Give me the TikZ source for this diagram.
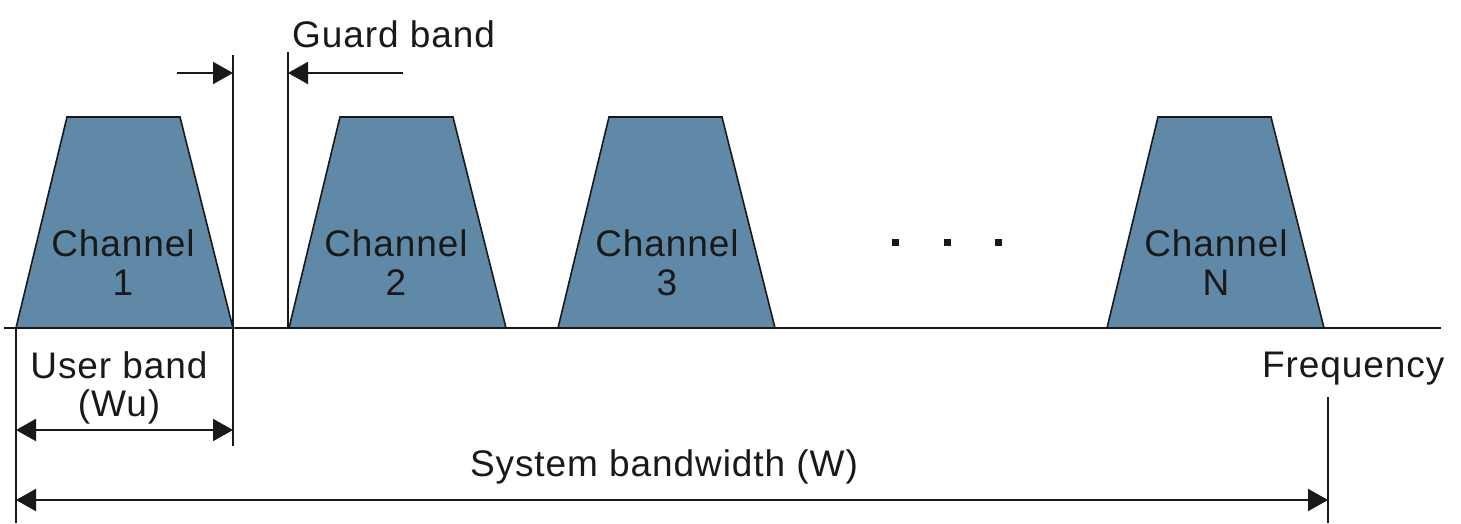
\documentclass[tikz,border=0pt]{standalone}
\usepackage{fontspec}
\setmainfont{Liberation Sans}[LetterSpace=2.5]
\usetikzlibrary{arrows.meta}
\definecolor{chanfill}{RGB}{96,137,168}
\definecolor{ink}{RGB}{25,25,25}
\tikzset{
  chan/.style={fill=chanfill, draw=ink, line width=1.6pt, line join=miter},
  rule/.style={draw=ink, line width=2pt},
  tip/.tip={Triangle[length=20pt,width=22pt]},
  dim/.style={draw=ink, line width=2pt, -tip},
  dimboth/.style={draw=ink, line width=2pt, tip-tip},
  lbl/.style={text=ink, font=\fontsize{37}{40}\selectfont, inner sep=0pt, align=center},
}
\begin{document}
\begin{tikzpicture}[x=1pt, y=-1pt]
  \useasboundingbox (0,0) rectangle (1461,523);

  % channel spectra
  \foreach \a in {16, 289, 558, 1107} {
    \path[chan] (\a,328) -- (\a+51,117) -- (\a+164,117) -- (\a+217,328) -- cycle;
  }
  \node[lbl] (c1) at (123,263) {Channel\\[-1pt]1};
  \node[lbl] (c2) at (396,263) {Channel\\[-1pt]2};
  \node[lbl] (c3) at (667,263) {Channel\\[-1pt]3};
  \node[lbl] (cN) at (1216,263) {Channel\\[-1pt]N};

  % ellipsis between channel 3 and channel N
  \foreach \x in {895, 947, 998} {
    \fill[ink] (\x-3.5,238.5) rectangle (\x+3.5,245.5);
  }

  % frequency axis
  \coordinate (ax0) at (4,328);
  \coordinate (ax1) at (1441,328);
  \draw[rule] (ax0) -- (ax1);

  % guard band markers
  \coordinate (g1t) at (233,55);
  \coordinate (g1b) at (233,446);
  \coordinate (g2t) at (288,52);
  \coordinate (g2b) at (288,328);
  \draw[rule] (g1t) -- (g1b);
  \draw[rule] (g2t) -- (g2b);
  \coordinate (ga0) at (177,73);
  \coordinate (ga1) at (233,73);
  \coordinate (gb0) at (403,73);
  \coordinate (gb1) at (288,73);
  \draw[dim] (ga0) -- (ga1);
  \draw[dim] (gb0) -- (gb1);
  \node[lbl, anchor=west] (guard) at (292,34) {Guard band};

  % user band
  \coordinate (u0) at (16,328);
  \coordinate (u1) at (16,523);
  \draw[rule] (u0) -- (u1);
  \node[lbl] (user) at (119,388) {User band\\[-2pt](Wu)};
  \coordinate (ua) at (16,430);
  \coordinate (ub) at (233,430);
  \draw[dimboth] (ua) -- (ub);

  % system bandwidth
  \node[lbl, anchor=west] (freq) at (1262,369) {Frequency};
  \coordinate (f0) at (1328,397);
  \coordinate (f1) at (1328,523);
  \draw[rule] (f0) -- (f1);
  \node[lbl] (sys) at (664,467) {System bandwidth (W)};
  \coordinate (sa) at (16,500);
  \coordinate (sb) at (1328,500);
  \draw[dimboth] (sa) -- (sb);
\end{tikzpicture}
\end{document}
